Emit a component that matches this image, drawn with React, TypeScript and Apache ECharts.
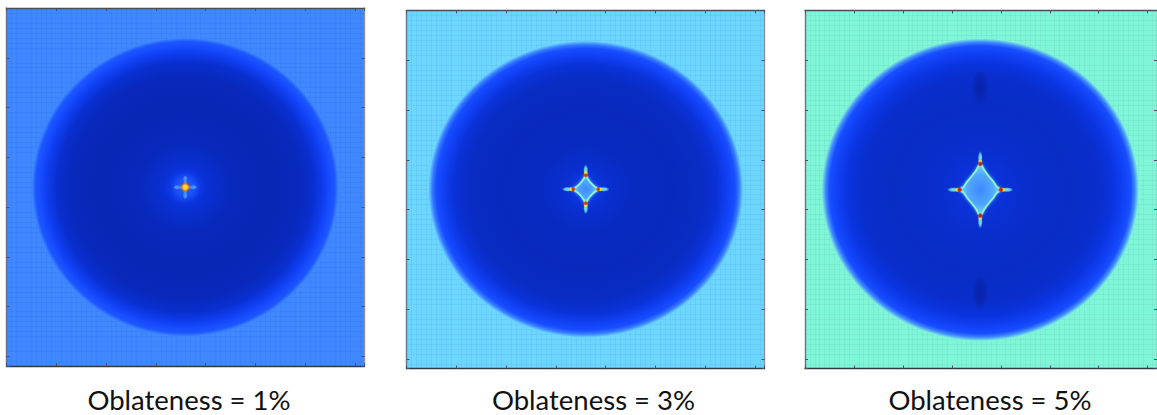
import React, { useEffect, useRef } from "react";
import * as echarts from "echarts";

// Values in axis units; level = position on the colour scale, 0..1
const panelTitles = ["Oblateness = 1%", "Oblateness = 3%", "Oblateness = 5%"];
const axisTicks = [0, 1, 2, 3, 4, 5, 6, 7];
const backgroundLevels = [0.4, 0.5, 0.6];
const centresX = [3.59, 3.6, 3.58];
const centresY = [3.6, 3.59, 3.6];
const bodyRadiusX = [3.08, 3.16, 3.24];
const bodyRadiusY = [3.0, 2.98, 3.04];
const profileOffsets = [0, 0.06, 0.14, 0.3, 0.55, 0.75, 0.84, 0.91, 0.95, 0.975, 1];
const profileLevels = [
  [0.3, 0.25, 0.17, 0.11, 0.09, 0.11, 0.16, 0.26, 0.31, 0.32, 0.4],
  [0.26, 0.22, 0.16, 0.12, 0.11, 0.13, 0.18, 0.27, 0.31, 0.38, 0.5],
  [0.28, 0.24, 0.18, 0.15, 0.13, 0.15, 0.2, 0.27, 0.31, 0.4, 0.6],
];
// [distance from centre, radius along, radius across, level, on vertical arm?]
const armSpots = [
  [
    [0.16, 0.08, 0.05, 0.52, 0],
    [0.16, 0.08, 0.05, 0.52, 1],
    [0.08, 0.05, 0.05, 0.7, 0],
    [0.08, 0.05, 0.05, 0.7, 1],
  ],
  [
    [0.36, 0.12, 0.05, 0.54, 0],
    [0.29, 0.05, 0.05, 0.8, 0],
    [0.25, 0.05, 0.055, 0.97, 0],
    [0.38, 0.12, 0.05, 0.54, 1],
    [0.32, 0.05, 0.05, 0.8, 1],
    [0.28, 0.05, 0.055, 0.97, 1],
  ],
  [
    [0.54, 0.14, 0.05, 0.54, 0],
    [0.46, 0.06, 0.05, 0.8, 0],
    [0.42, 0.06, 0.055, 1, 0],
    [0.64, 0.14, 0.05, 0.54, 1],
    [0.56, 0.06, 0.05, 0.8, 1],
    [0.52, 0.06, 0.055, 1, 1],
  ],
];
const notchDistance = [0, 0, 2.06];
const coreRadius = [0.14, 0, 0];
// one quadrant of the star outline, mirrored on both axes
const outlineX = [[], [0.25, 0.17, 0.12, 0.08, 0.04, 0], [0.42, 0.34, 0.27, 0.19, 0.09, 0]];
const outlineY = [[], [0, 0.06, 0.11, 0.15, 0.21, 0.28], [0, 0.06, 0.16, 0.25, 0.38, 0.52]];

const palette = [
  "#081a90", "#0828b8", "#0a34e0", "#1448ff", "#3f88ff", "#6cd6ff",
  "#80f6d8", "#c8f580", "#ffe828", "#ff7a10", "#c81408",
];
const levelColor = (v: number, alpha = 1) =>
  echarts.color.modifyAlpha(echarts.color.lerp(v, palette) as string, alpha) as string;

const GRID_LEFT = [6.5, 406.5, 805];
const GRID_TOP = [8, 10.5, 10.5];
const GRID_SIZE = 358;
const AXIS_MAX = 7.19;

const baseAxis = (g: number, position: string, inverse: boolean, lineColor: string, withMesh: boolean) => ({
  type: "value",
  gridIndex: g,
  position,
  min: 0,
  max: AXIS_MAX,
  interval: 1,
  inverse,
  axisLine: { show: true, onZero: false, lineStyle: { color: lineColor, width: 1.4 } },
  axisTick: { show: true, inside: true, length: 3, lineStyle: { color: "#47526a", width: 1 } },
  axisLabel: { show: false },
  splitLine: { show: false },
  minorTick: { show: false, splitNumber: 10 },
  minorSplitLine: { show: withMesh, lineStyle: { color: "rgba(0,10,70,0.04)", width: 1 } },
  data: axisTicks,
});

function spotItem(api: any) {
  const c = api.coord([api.value(0), api.value(1)]);
  const e = api.coord([api.value(0) + api.value(2), api.value(1) + api.value(3)]);
  const lv = api.value(4);
  const peak = api.value(5);
  return {
    type: "ellipse",
    shape: { cx: c[0], cy: c[1], rx: e[0] - c[0], ry: e[1] - c[1] },
    style: {
      fill: new echarts.graphic.RadialGradient(0.5, 0.5, 0.5, [
        { offset: 0, color: levelColor(lv, peak) },
        { offset: 0.5, color: levelColor(lv, peak * 0.85) },
        { offset: 1, color: levelColor(lv, 0) },
      ]),
    },
  };
}

function buildOption() {
  const grid: any[] = [];
  const xAxis: any[] = [];
  const yAxis: any[] = [];
  const series: any[] = [];
  const title: any[] = [];
  const titleX = [189, 593.5, 990];

  panelTitles.forEach((text, p) => {
    grid.push({
      left: GRID_LEFT[p],
      top: GRID_TOP[p],
      width: GRID_SIZE,
      height: GRID_SIZE,
      show: true,
      backgroundColor: levelColor(backgroundLevels[p]),
      borderWidth: 0,
    });
    xAxis.push(baseAxis(p, "bottom", false, "#333844", true), baseAxis(p, "top", false, "#4a4e58", false));
    yAxis.push(baseAxis(p, "left", true, "#6a7288", true), baseAxis(p, "right", true, "#8c8f96", false));
    title.push({
      text,
      left: titleX[p],
      top: 385,
      padding: 0,
      textAlign: "center",
      textStyle: { fontFamily: "Lato", fontSize: 27.5, lineHeight: 29, fontWeight: "normal", color: "#111" },
    });
    const axes = { xAxisIndex: p * 2, yAxisIndex: p * 2 };
    const cx = centresX[p];
    const cy = centresY[p];

    // body
    series.push({
      type: "custom",
      ...axes,
      silent: true,
      clip: true,
      z: 2,
      data: [[cx, cy, bodyRadiusX[p], bodyRadiusY[p]]],
      renderItem: (_: any, api: any) => {
        const c = api.coord([api.value(0), api.value(1)]);
        const e = api.coord([api.value(0) + api.value(2), api.value(1) + api.value(3)]);
        return {
          type: "ellipse",
          shape: { cx: c[0], cy: c[1], rx: e[0] - c[0], ry: e[1] - c[1] },
          style: {
            fill: new echarts.graphic.RadialGradient(
              0.5, 0.5, 0.5,
              profileOffsets.map((offset, i) => ({ offset, color: levelColor(profileLevels[p][i]) }))
            ),
          },
        };
      },
    });

    // star outline
    if (outlineX[p].length) {
      const qx = outlineX[p];
      const qy = outlineY[p];
      const n = qx.length;
      const loop: number[][] = [];
      for (let i = 0; i < n; i++) loop.push([cx + qx[i], cy - qy[i]]);
      for (let i = n - 2; i >= 0; i--) loop.push([cx - qx[i], cy - qy[i]]);
      for (let i = 1; i < n; i++) loop.push([cx - qx[i], cy + qy[i]]);
      for (let i = n - 2; i > 0; i--) loop.push([cx + qx[i], cy + qy[i]]);
      series.push({
        type: "custom",
        ...axes,
        silent: true,
        z: 3,
        data: loop,
        renderItem: (params: any, api: any) => {
          if (params.dataIndex !== 0) return { type: "group", children: [] };
          const points = loop.map((pt) => api.coord(pt));
          return {
            type: "polygon",
            shape: { points, smooth: 0.3 },
            style: {
              fill: new echarts.graphic.RadialGradient(0.5, 0.5, 0.5, [
                { offset: 0, color: levelColor(0.4) },
                { offset: 0.6, color: levelColor(0.44) },
                { offset: 1, color: levelColor(0.54) },
              ]),
              stroke: levelColor(0.62),
              lineWidth: 1.8,
              shadowBlur: 3,
              shadowColor: levelColor(0.55, 0.8),
            },
          };
        },
      });
    }

    // arm, core and notch spots
    const spotRows: number[][] = [];
    if (notchDistance[p]) {
      [-1, 1].forEach((sign) => spotRows.push([cx, cy + sign * notchDistance[p], 0.17, 0.36, 0.06, 0.8]));
    }
    armSpots[p].forEach(([dist, along, across, level, vertical]) => {
      [-1, 1].forEach((sign) => {
        if (vertical) spotRows.push([cx, cy + sign * dist, across, along, level, 1]);
        else spotRows.push([cx + sign * dist, cy, along, across, level, 1]);
      });
    });
    if (coreRadius[p]) {
      spotRows.push([cx, cy, coreRadius[p] * 2.2, coreRadius[p] * 2.2, 0.34, 0.7]);
      spotRows.push([cx, cy, coreRadius[p] * 0.8, coreRadius[p] * 0.8, 0.95, 1]);
      spotRows.push([cx, cy, coreRadius[p] * 0.6, coreRadius[p] * 0.6, 0.8, 1]);
    }
    series.push({
      type: "custom",
      ...axes,
      silent: true,
      z: 4,
      data: spotRows,
      renderItem: (_: any, api: any) => spotItem(api),
    });
  });

  return { animation: false, backgroundColor: "#fff", grid, xAxis, yAxis, title, series };
}

export default function App() {
  const ref = useRef<HTMLDivElement>(null);
  useEffect(() => {
    document.body.style.margin = "0";
    const chart = echarts.init(ref.current!, undefined, { renderer: "svg" });
    chart.setOption(buildOption());
    return () => chart.dispose();
  }, []);
  return <div ref={ref} style={{ width: 1157, height: 415 }} />;
}
